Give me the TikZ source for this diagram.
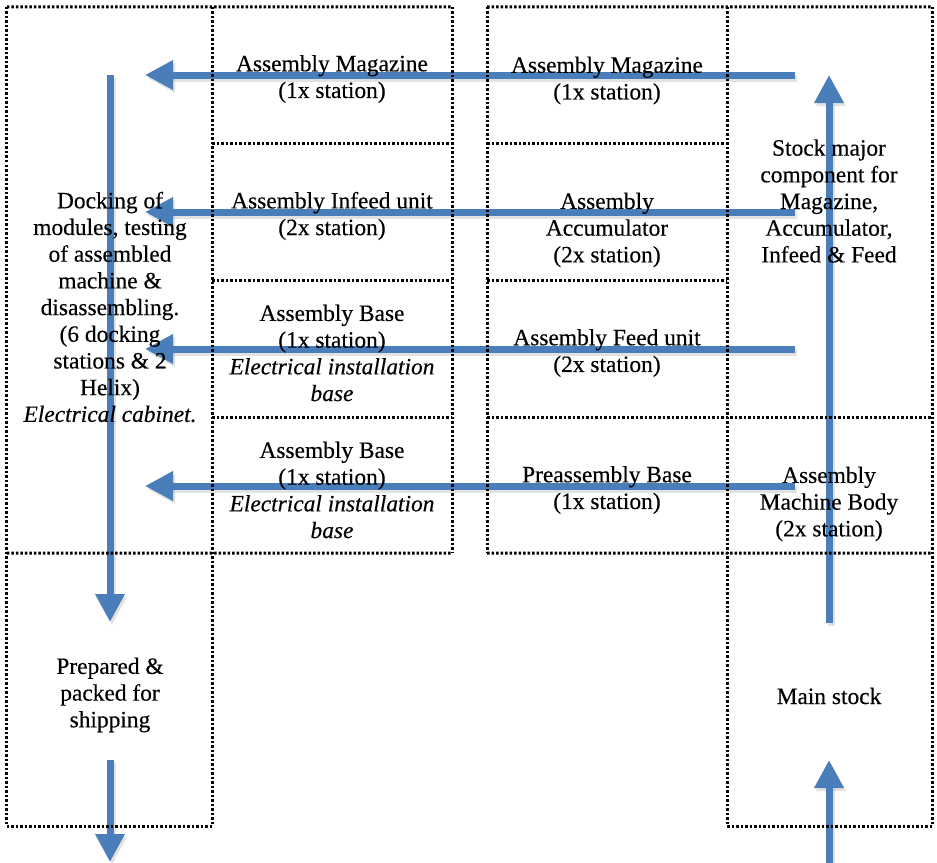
\documentclass[tikz,border=0pt]{standalone}
\usepackage{fontspec}
\setmainfont{Liberation Serif}[UprightFeatures={FakeBold=0.3},ItalicFeatures={FakeBold=0.3}]
\usetikzlibrary{arrows.meta}
\definecolor{flowblue}{RGB}{74,126,187}
\begin{document}
\begin{tikzpicture}[x=1bp,y=-1bp,
  cell/.style={inner sep=0pt, outer sep=0pt},
  rule/.style={draw=black, line width=3bp, dash pattern=on 2.5bp off 2bp},
  txt/.style={align=center, inner sep=0pt,
    font=\fontsize{23.5}{26.8}\selectfont},
  flow/.style={draw=flowblue, line width=7bp,
    -{Triangle[length=28bp,width=28bp]}},
  flowshade/.style={draw=black!45, opacity=0.25, line width=7bp,
    -{Triangle[length=28bp,width=28bp]},
    transform canvas={shift={(2bp,-3bp)}}},
]
\useasboundingbox (0,0) rectangle (937,863);

% ---- arrow end points ----
\coordinate (r1s) at (795,75);  \coordinate (r1e) at (145,75);
\coordinate (r2s) at (795,212); \coordinate (r2e) at (145,212);
\coordinate (r3s) at (795,349); \coordinate (r3e) at (145,349);
\coordinate (r4s) at (795,486); \coordinate (r4e) at (145,486);
\coordinate (dns) at (110,75);  \coordinate (dne) at (110,622);
\coordinate (outs) at (110,760); \coordinate (oute) at (110,862);
\coordinate (ups) at (829,623); \coordinate (upe) at (829,75);
\coordinate (ins) at (829,863); \coordinate (ine) at (829,760);

% ---- soft shadows of the flow arrows ----
\foreach \a/\b in {r1s/r1e, r2s/r2e, r3s/r3e, r4s/r4e, dns/dne, outs/oute, ups/upe, ins/ine}
  \draw[flowshade] (\a) -- (\b);

% ---- flow arrows ----
\foreach \a/\b in {r1s/r1e, r2s/r2e, r3s/r3e, r4s/r4e, dns/dne, outs/oute, ups/upe, ins/ine}
  \draw[flow] (\a) -- (\b);

% ---- cells (areas) ----
\node[cell, minimum width=205bp, minimum height=546bp] (dock)   at (109.5,280) {};
\node[cell, minimum width=205bp, minimum height=273bp] (pack)   at (109.5,689.5) {};
\node[cell, minimum width=240bp, minimum height=136bp] (magA)   at (332,75) {};
\node[cell, minimum width=240bp, minimum height=137bp] (infeed) at (332,211.5) {};
\node[cell, minimum width=240bp, minimum height=137bp] (baseA)  at (332,348.5) {};
\node[cell, minimum width=240bp, minimum height=136bp] (baseB)  at (332,485) {};
\node[cell, minimum width=240bp, minimum height=136bp] (magB)   at (607,75) {};
\node[cell, minimum width=240bp, minimum height=137bp] (accu)   at (607,211.5) {};
\node[cell, minimum width=240bp, minimum height=137bp] (feed)   at (607,348.5) {};
\node[cell, minimum width=240bp, minimum height=136bp] (pre)    at (607,485) {};
\node[cell, minimum width=205bp, minimum height=410bp] (stock)  at (829.5,212) {};
\node[cell, minimum width=205bp, minimum height=136bp] (body)   at (829.5,485) {};
\node[cell, minimum width=205bp, minimum height=273bp] (main)   at (829.5,689.5) {};

% ---- dotted cell borders, each edge drawn once ----
% horizontal
\draw[rule] (dock.north west) -- (magA.north east);
\draw[rule] (magB.north west) -- (stock.north east);
\draw[rule] (infeed.north west) -- (infeed.north east);
\draw[rule] (accu.north west) -- (accu.north east);
\draw[rule] (baseA.north west) -- (baseA.north east);
\draw[rule] (feed.north west) -- (feed.north east);
\draw[rule] (baseB.north west) -- (baseB.north east);
\draw[rule] (pre.north west) -- (body.north east);
\draw[rule] (pack.north west) -- (baseB.south east);
\draw[rule] (pre.south west) -- (main.north east);
\draw[rule] (pack.south west) -- (pack.south east);
\draw[rule] (main.south west) -- (main.south east);
% vertical
\draw[rule] (dock.north west) -- (pack.south west);
\draw[rule] (dock.north east) -- (pack.south east);
\draw[rule] (magA.north east) -- (baseB.south east);
\draw[rule] (magB.north west) -- (pre.south west);
\draw[rule] (stock.north west) -- (main.south west);
\draw[rule] (stock.north east) -- (main.south east);

% ---- labels ----
\node[txt] (tDock) at (110,307) {Docking of\\modules, testing\\of assembled\\machine \&\\disassembling.\\(6 docking\\stations \& 2\\Helix)\\\textit{Electrical cabinet.}};
\node[txt] (tPack) at (110,695) {Prepared \&\\packed for\\shipping};
\node[txt] (tMagA) at (332,79) {Assembly Magazine\\(1x station)};
\node[txt] (tInfeed) at (332,216) {Assembly Infeed unit\\(2x station)};
\node[txt] (tBaseA) at (332,353) {Assembly Base\\(1x station)\\\textit{Electrical installation}\\\textit{base}};
\node[txt] (tBaseB) at (332,490) {Assembly Base\\(1x station)\\\textit{Electrical installation}\\\textit{base}};
\node[txt] (tMagB) at (607,80.5) {Assembly Magazine\\(1x station)};
\node[txt] (tAccu) at (607,230) {Assembly\\Accumulator\\(2x station)};
\node[txt] (tFeed) at (607,353) {Assembly Feed unit\\(2x station)};
\node[txt] (tPre) at (607,490) {Preassembly Base\\(1x station)};
\node[txt] (tStock) at (829,201) {Stock major\\component for\\Magazine,\\Accumulator,\\Infeed \& Feed};
\node[txt] (tBody) at (829,504) {Assembly\\Machine Body\\(2x station)};
\node[txt] (tMain) at (829,696) {Main stock};
\end{tikzpicture}
\end{document}
